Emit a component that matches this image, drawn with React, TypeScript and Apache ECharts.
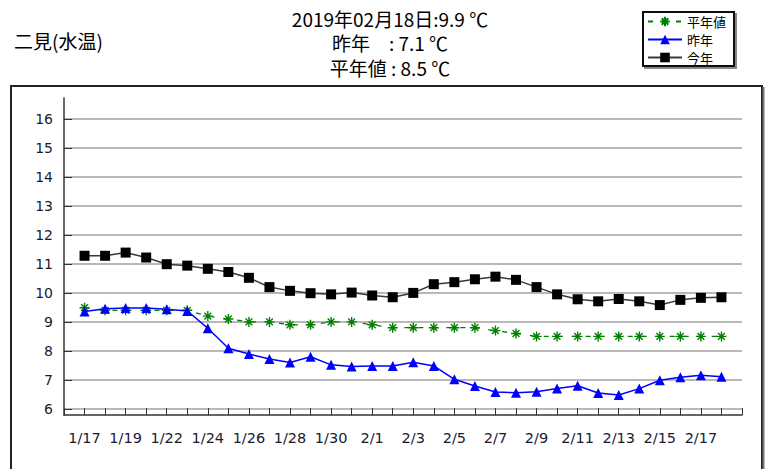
import React, { useEffect, useRef } from 'react';
import * as echarts from 'echarts';

const dates = [
  '1/17', '1/18', '1/19', '1/20', '1/22', '1/23', '1/24', '1/25', '1/26', '1/27', '1/28', '1/29', '1/30', '1/31',
  '2/1', '2/2', '2/3', '2/4', '2/5', '2/6', '2/7', '2/8', '2/9', '2/10', '2/11', '2/12', '2/13', '2/14', '2/15',
  '2/16', '2/17', '2/18',
];

const todayValues = [
  11.28, 11.28, 11.39, 11.22, 10.99, 10.94, 10.83, 10.72, 10.52, 10.2, 10.07, 9.99, 9.95, 10.01, 9.91, 9.85,
  10.0, 10.3, 10.37, 10.47, 10.56, 10.45, 10.2, 9.95, 9.78, 9.71, 9.79, 9.71, 9.58, 9.76, 9.83, 9.85,
];

const lastYearValues = [
  9.36, 9.45, 9.48, 9.48, 9.44, 9.38, 8.78, 8.09, 7.89, 7.72, 7.6, 7.8, 7.52, 7.46, 7.48, 7.48, 7.61, 7.48,
  7.02, 6.79, 6.58, 6.56, 6.59, 6.7, 6.8, 6.55, 6.48, 6.7, 6.99, 7.09, 7.16, 7.11,
];

const normalValues = [
  9.49, 9.4, 9.4, 9.4, 9.4, 9.4, 9.2, 9.1, 9.0, 9.0, 8.9, 8.9, 9.0, 9.0, 8.9, 8.8, 8.8, 8.8, 8.8, 8.8, 8.7,
  8.6, 8.5, 8.5, 8.5, 8.5, 8.5, 8.5, 8.5, 8.5, 8.5, 8.5,
];

const titleLines = ['2019年02月18日:9.9 ℃', '昨年\u3000: 7.1 ℃', '平年値 : 8.5 ℃'];
const stationName = '二見(水温)';
const seriesNames = ['平年値', '昨年', '今年'];

const STAR = 'path://M5 0 L5 10 M0 5 L10 5 M1.6 1.6 L8.4 8.4 M1.6 8.4 L8.4 1.6';

export default function App() {
  const ref = useRef<HTMLDivElement>(null);

  useEffect(() => {
    const chart = echarts.init(ref.current!, null, { renderer: 'svg' });
    const pairs = (arr: number[]) => arr.map((v, i) => [i, v]);
    const labelFont = '"DejaVu Sans", Verdana, sans-serif';
    const cjk = '"Noto Sans CJK JP", sans-serif';

    const option = {
      animation: false,
      backgroundColor: '#ffffff',
      graphic: [
        {
          type: 'rect',
          z: -10,
          shape: { x: 11, y: 86, width: 751, height: 420 },
          style: { fill: 'none', stroke: '#222', lineWidth: 2 },
        },
        {
          type: 'line',
          z: -10,
          shape: { x1: 763.5, y1: 87, x2: 763.5, y2: 469 },
          style: { stroke: '#777', lineWidth: 2 },
        },
        {
          type: 'text',
          left: 14,
          top: 31,
          style: { text: stationName, font: `19px ${cjk}`, fill: '#000' },
        },
        ...titleLines.map((t, i) => ({
          type: 'text',
          x: 390,
          y: 18 + i * 24.5,
          style: {
            text: t,
            font: `19px ${cjk}`,
            fill: '#000',
            textAlign: 'center',
            textVerticalAlign: 'middle',
          },
        })),
      ],
      legend: {
        orient: 'vertical',
        left: 643,
        top: 12,
        padding: [3, 8, 2, 4],
        itemGap: 5,
        itemWidth: 34,
        itemHeight: 12,
        backgroundColor: '#fff',
        borderColor: '#111',
        borderWidth: 2,
        shadowColor: '#888',
        shadowOffsetX: 2,
        shadowOffsetY: 2,
        shadowBlur: 0,
        data: seriesNames,
        textStyle: { fontSize: 13, color: '#000', fontFamily: cjk },
      },
      grid: [
        { left: 64, top: 98, width: 678, height: 317 },
        { left: 64, top: 119, width: 678, height: 290 },
      ],
      xAxis: [
        {
          type: 'value',
          gridIndex: 0,
          min: -1,
          max: 32,
          interval: 1,
          axisLine: { show: true, onZero: false, lineStyle: { color: '#333', width: 1.5 } },
          axisTick: { show: true, inside: true, length: 7, lineStyle: { color: '#333', width: 1 } },
          axisLabel: {
            margin: 15,
            fontSize: 14.5,
            color: '#1a1a2e',
            fontFamily: labelFont,
            showMinLabel: true,
            showMaxLabel: true,
            formatter: (v: number) => (v >= 0 && v <= 30 && v % 2 === 0 ? dates[v] : ''),
          },
          splitLine: { show: false },
        },
        { type: 'value', gridIndex: 1, min: 0, max: 1, show: false },
      ],
      yAxis: [
        {
          type: 'value',
          gridIndex: 0,
          min: 5.79,
          max: 16.72,
          axisLine: { show: true, onZero: false, lineStyle: { color: '#333', width: 1.5 } },
          axisTick: { show: false },
          axisLabel: { show: false },
          splitLine: { show: false },
        },
        {
          type: 'value',
          gridIndex: 1,
          min: 6,
          max: 16,
          interval: 1,
          axisLine: { show: false },
          axisTick: { show: true, inside: true, length: 8, lineStyle: { color: '#333', width: 1 } },
          axisLabel: { margin: 11, fontSize: 14, color: '#1a1a2e', fontFamily: labelFont },
          splitLine: { show: true, lineStyle: { color: '#a0a0a0', width: 1.5 } },
        },
      ],
      series: [
        {
          name: seriesNames[0],
          type: 'line',
          xAxisIndex: 0,
          yAxisIndex: 0,
          data: pairs(normalValues),
          symbol: STAR,
          symbolSize: 10,
          lineStyle: { color: '#008000', width: 1.3, type: [5, 9] },
          itemStyle: { color: '#008000', borderColor: '#008000', borderWidth: 1.4 },
          z: 2,
        },
        {
          name: seriesNames[1],
          type: 'line',
          xAxisIndex: 0,
          yAxisIndex: 0,
          data: pairs(lastYearValues),
          symbol: 'triangle',
          symbolSize: 10,
          lineStyle: { color: '#0000ff', width: 1.5 },
          itemStyle: { color: '#0000ff' },
          z: 3,
        },
        {
          name: seriesNames[2],
          type: 'line',
          xAxisIndex: 0,
          yAxisIndex: 0,
          data: pairs(todayValues),
          symbol: 'rect',
          symbolSize: 10,
          lineStyle: { color: '#3a3a3a', width: 1.5 },
          itemStyle: { color: '#000' },
          z: 4,
        },
      ],
    };

    chart.setOption(option as any);
    return () => chart.dispose();
  }, []);

  return (
    <div
      ref={ref}
      style={{ position: 'absolute', left: 0, top: 0, width: 767, height: 469, background: '#fff' }}
    />
  );
}
